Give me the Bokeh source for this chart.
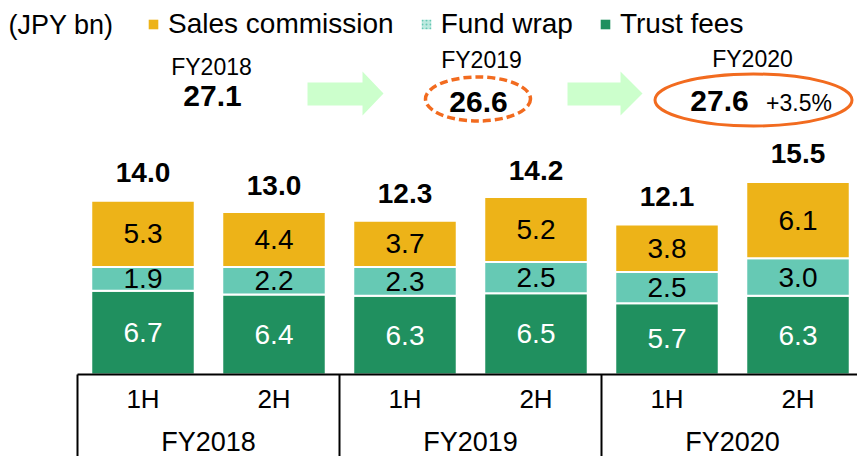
import numpy as np
from bokeh.plotting import figure
from bokeh.models import Range1d, ColumnDataSource, Legend, LegendItem, Label
from bokeh.core.properties import value
from bokeh.embed import file_html
from bokeh.resources import INLINE

# ---------------- data ----------------
fiscal_years = ["FY2018", "FY2019", "FY2020"]
halves = ["1H", "2H"]
trust_fees = [6.7, 6.4, 6.3, 6.5, 5.7, 6.3]
fund_wrap = [1.9, 2.2, 2.3, 2.5, 2.5, 3.0]
sales_commission = [5.3, 4.4, 3.7, 5.2, 3.8, 6.1]
half_totals = [14.0, 13.0, 12.3, 14.2, 12.1, 15.5]
annual_totals = [27.1, 26.6, 27.6]
yoy_change = "+3.5%"
unit_label = "(JPY bn)"
series_names = ["Sales commission", "Fund wrap", "Trust fees"]

# ---------------- styling / layout ----------------
FONT = "Liberation Sans"
GOLD = "#EDB318"
TEAL = "#66C9B4"
GREEN = "#20905F"
ORANGE = "#F26B1F"
ARROW = "#CCFFCC"

W, H = 857, 456
PX_X = 131.0      # pixels per category slot
PX_Y = 12.5       # pixels per JPY bn
X_ORIGIN = 77.0   # x of left edge of first slot
Y_BASE = 374.0    # y of the baseline


def dx(px):
    return (px - X_ORIGIN) / PX_X


def dy(py):
    return (Y_BASE - py) / PX_Y


p = figure(width=W, height=H, output_backend="svg", toolbar_location=None,
           x_range=Range1d(dx(0), dx(W)), y_range=Range1d(dy(H), dy(0)),
           x_axis_location=None, y_axis_location=None, min_border=0,
           outline_line_color=None)
p.grid.visible = False

n = len(trust_fees)
xs = np.arange(n) + 0.5
t = np.array(trust_fees)
f = np.array(fund_wrap)
s = np.array(sales_commission)

src = ColumnDataSource(dict(
    x=xs,
    t_top=t, f_top=t + f, s_top=t + f + s,
    t_mid=t / 2, f_mid=t + f / 2, s_mid=t + f + s / 2,
    t_lab=[f"{v:.1f}" for v in t], f_lab=[f"{v:.1f}" for v in f],
    s_lab=[f"{v:.1f}" for v in s],
    total=half_totals, total_lab=[f"{v:.1f}" for v in half_totals],
    half=[h for _ in fiscal_years for h in halves],
))

BW = 0.79
p.vbar(x="x", bottom=0, top="t_top", width=BW, source=src,
       fill_color=GREEN, line_color="white", line_width=2)
p.vbar(x="x", bottom="t_top", top="f_top", width=BW, source=src,
       fill_color=TEAL, line_color="white", line_width=2)
p.vbar(x="x", bottom="f_top", top="s_top", width=BW, source=src,
       fill_color=GOLD, line_color="white", line_width=2)

common = dict(text_font=value(FONT), text_align="center", text_baseline="middle")
p.text(x="x", y="t_mid", text="t_lab", source=src, text_color="white",
       text_font_size="28px", **common)
p.text(x="x", y="f_mid", text="f_lab", source=src, text_color="black",
       text_font_size="28px", **common)
p.text(x="x", y="s_mid", text="s_lab", source=src, text_color="black",
       text_font_size="28px", **common)
p.text(x="x", y="total", text="total_lab", source=src, text_color="black",
       text_font_size="28px", text_font_style="bold", y_offset=-27, **common)

# ---------------- category axis (boxed, two levels) ----------------
p.text(x="x", y=0, text="half", source=src, text_color="black",
       text_font_size="26px", y_offset=24, **common)
grp_x = np.arange(len(fiscal_years)) * len(halves) + len(halves) / 2
p.text(x=grp_x, y=[0] * len(grp_x), text=fiscal_years, text_color="black",
       text_font_size="27px", y_offset=67, **common)
bounds = np.arange(len(fiscal_years)) * len(halves)
p.segment(x0=bounds, y0=[0] * len(bounds), x1=bounds,
          y1=[dy(H)] * len(bounds), line_color="black", line_width=2)
p.segment(x0=[0], y0=[0], x1=[dx(W)], y1=[0], line_color="black", line_width=2)

# ---------------- annual summary ----------------
yr_x = [dx(211), dx(481), dx(752)]
yr_y = [dy(66), dy(59.5), dy(58)]
p.text(x=yr_x, y=yr_y, text=fiscal_years, text_color="black",
       text_font_size="23px", **common)
tot_x = [dx(212), dx(478), dx(719)]
tot_y = [dy(95), dy(101.5), dy(100.5)]
p.text(x=tot_x, y=tot_y, text=[f"{v:.1f}" for v in annual_totals],
       text_color="black", text_font_size="30px", text_font_style="bold", **common)
p.text(x=[dx(798.5)], y=[dy(102.5)], text=[yoy_change], text_color="black",
       text_font_size="23px", **common)

p.ellipse(x=[dx(477.5)], y=[dy(98.5)], width=105, height=44,
          width_units="screen", height_units="screen",
          fill_color=None, line_color=ORANGE, line_width=3.5, line_dash="8 4")
p.ellipse(x=[dx(753)], y=[dy(99.5)], width=197, height=52,
          width_units="screen", height_units="screen",
          fill_color=None, line_color=ORANGE, line_width=3)


def arrow(a, b, c):
    px = [a, b, b, c, b, b, a]
    py = [82, 82, 71, 93, 115, 105, 105]
    return [dx(v) for v in px], [dy(v) for v in py]


ax1, ay1 = arrow(307, 362, 383)
ax2, ay2 = arrow(567, 620, 642)
p.patches(xs=[ax1, ax2], ys=[ay1, ay2], fill_color=ARROW, line_color=None)

# ---------------- legend ----------------
def legend_swatch(**kw):
    r = p.vbar(x=[0], top=[0], width=0.5, line_color=None, **kw)
    r.visible = False
    return r


lg_s = legend_swatch(fill_color=GOLD)
lg_f = legend_swatch(fill_color="#BDE9DF", hatch_pattern="dot", hatch_color=TEAL,
                     hatch_scale=4, hatch_weight=1.5)
lg_t = legend_swatch(fill_color=GREEN)
legend = Legend(items=[LegendItem(label=series_names[0], renderers=[lg_s]),
                       LegendItem(label=series_names[1], renderers=[lg_f]),
                       LegendItem(label=series_names[2], renderers=[lg_t])],
                orientation="horizontal", location=(147, 416),
                glyph_width=12, glyph_height=12, label_standoff=9, spacing=26,
                padding=0, margin=0, border_line_color=None,
                background_fill_alpha=0, label_text_font=FONT,
                label_text_font_size="28px", label_text_color="black",
                inactive_fill_alpha=0)
p.add_layout(legend)

p.add_layout(Label(x=dx(8), y=dy(24), text=unit_label, text_font=FONT,
                   text_font_size="27px", text_baseline="middle",
                   text_color="black"))

open("out.html", "w").write(file_html(p, INLINE))
